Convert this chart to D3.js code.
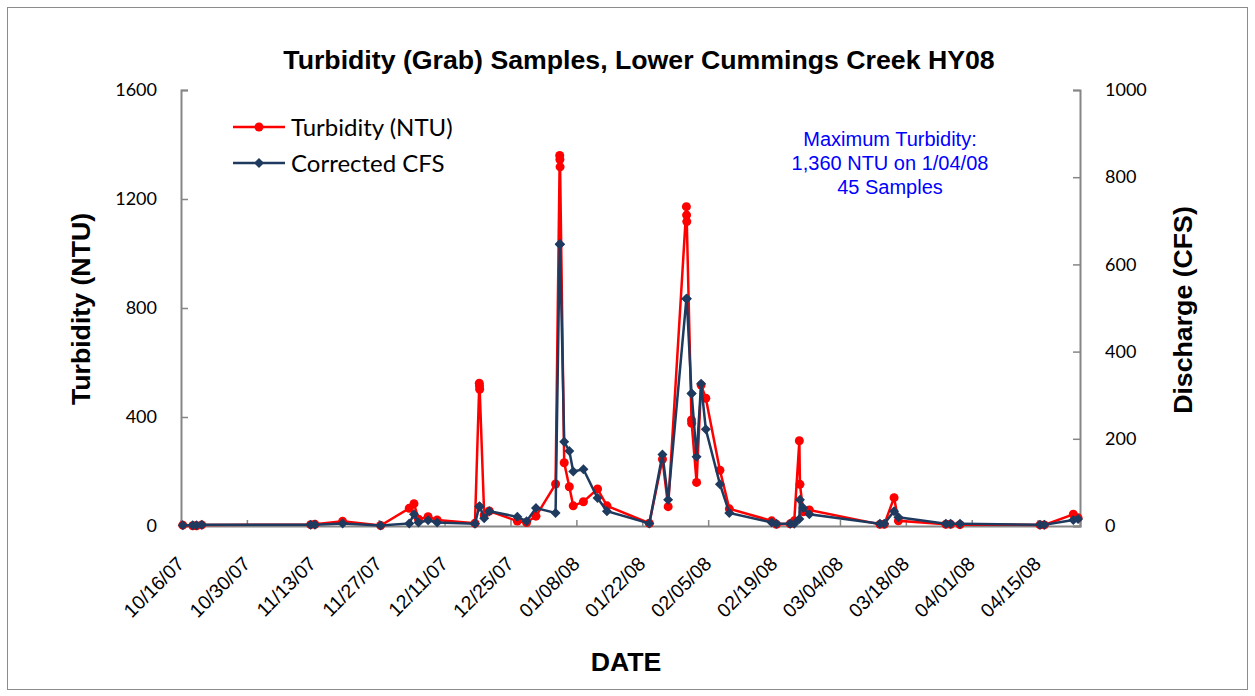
<!DOCTYPE html>
<html><head><meta charset="utf-8">
<script src="https://cdn.jsdelivr.net/npm/d3@7"></script>
<style>body{margin:0;background:#fff}</style>
</head><body><svg id="c" width="1255" height="696"></svg>
<script>
// ---- data ----
const sampleTimes = [
 "10/16/07 09:00","10/18/07 12:00","10/19/07 07:00","10/20/07 10:00",
 "11/12/07 13:00","11/13/07 11:00","11/19/07 08:00","11/27/07 10:00",
 "12/03/07 12:00","12/04/07 12:00","12/05/07 11:00","12/07/07 12:00","12/09/07 10:00",
 "12/17/07 11:00","12/18/07 09:00","12/18/07 10:00","12/18/07 11:00","12/19/07 10:00","12/20/07 12:00",
 "12/26/07 11:00","12/28/07 10:00","12/30/07 10:00",
 "01/03/08 14:00","01/04/08 11:00","01/04/08 12:00","01/04/08 13:00","01/05/08 10:00","01/06/08 12:00",
 "01/07/08 08:00","01/09/08 12:00","01/12/08 12:00","01/14/08 12:00",
 "01/23/08 12:00","01/26/08 07:00","01/27/08 12:00",
 "01/31/08 09:00","01/31/08 10:00","01/31/08 11:00","02/01/08 11:00","02/01/08 12:00",
 "02/02/08 13:00","02/03/08 12:00","02/04/08 12:00","02/07/08 12:00","02/09/08 12:00",
 "02/18/08 12:00","02/19/08 12:00","02/22/08 10:00","02/23/08 07:00","02/24/08 09:00","02/24/08 12:00",
 "02/25/08 05:00","02/26/08 12:00",
 "03/12/08 12:00","03/13/08 10:00","03/15/08 12:00","03/16/08 10:00",
 "03/26/08 12:00","03/27/08 12:00","03/29/08 12:00",
 "04/15/08 12:00","04/16/08 10:00","04/22/08 14:00","04/23/08 14:00"
];
const turbidityNTU = [
 3,1,1,4,
 5,6,17,2,
 65,82,25,34,22,
 10,524,514,502,40,55,
 18,13,36,
 154,1360,1345,1318,232,144,
 74,89,136,74,
 10,245,71,
 1172,1141,1117,389,377,
 160,517,469,205,63,
 19,6,8,19,313,153,
 52,59,
 6,6,104,19,
 6,6,5,
 4,4,43,30
];
const correctedCFS = [
 2,2,2,3,
 3,3,6,1,
 6,27,8,13,8,
 5,45,45,45,18,34,
 21,11,41,
 30,646,646,646,193,172,
 125,130,64,34,
 6,164,60,
 521,521,521,304,304,
 159,326,222,96,30,
 8,5,5,5,16,60,
 41,27,
 5,5,34,20,
 5,5,5,
 3,3,14,16
];
const dateTickLabels = ["10/16/07","10/30/07","11/13/07","11/27/07","12/11/07","12/25/07",
 "01/08/08","01/22/08","02/05/08","02/19/08","03/04/08","03/18/08","04/01/08","04/15/08"];
const ntuTicks = [0,400,800,1200,1600];
const cfsTicks = [0,200,400,600,800,1000];
const xDomain = ["10/16/07","04/24/08"];

// ---- layout ----
const svg = d3.select("#c");
const L = 181, R = 1080, T = 90, B = 526;
const parseT = d3.timeParse("%m/%d/%y %H:%M");
const parseD = d3.timeParse("%m/%d/%y");
const x = d3.scaleTime().domain(xDomain.map(parseD)).range([L, R]);
const yL = d3.scaleLinear().domain([0, 1600]).range([B, T]);
const yR = d3.scaleLinear().domain([0, 1000]).range([B, T]);
const grey = "#868686";
const red = "#FF0000", navy = "#1F3A5F";
const ARIAL = "Liberation Sans, Arial, sans-serif";

svg.append("rect").attr("x", 7.5).attr("y", 7.5).attr("width", 1240).attr("height", 682)
  .attr("fill", "#fff").attr("stroke", "#8c8c8c").attr("stroke-width", 1);

const data = sampleTimes.map((s, i) => ({t: parseT(s), ntu: turbidityNTU[i], cfs: correctedCFS[i]}));

// axes
const gx = svg.append("g").attr("transform", `translate(0,${B})`)
  .call(d3.axisBottom(x).tickValues(dateTickLabels.map(parseD)).tickSize(-6).tickFormat(""));
const gl = svg.append("g").attr("transform", `translate(${L},0)`)
  .call(d3.axisLeft(yL).tickValues(ntuTicks).tickSize(-7).tickPadding(24).tickFormat(d3.format("d")));
const gr = svg.append("g").attr("transform", `translate(${R},0)`)
  .call(d3.axisRight(yR).tickValues(cfsTicks).tickSize(-7).tickPadding(25).tickFormat(d3.format("d")));
[gx, gl, gr].forEach(g => {
  g.select(".domain").attr("stroke", grey).attr("stroke-width", 2);
  g.selectAll(".tick line").attr("stroke", grey).attr("stroke-width", 1.5);
});
gl.selectAll("text").attr("font-family", "Lato").attr("font-size", 18).attr("fill", "#000");
gr.selectAll("text").attr("font-family", "Lato").attr("font-size", 18).attr("fill", "#000")
  .attr("text-anchor", "start");
gx.selectAll(".tick").append("text")
  .text((d, i) => dateTickLabels[i])
  .attr("font-family", ARIAL).attr("font-size", 19.5).attr("fill", "#000")
  .attr("text-anchor", "end")
  .attr("transform", "translate(4,39) rotate(-45)");

// series
const lineN = d3.line().x(d => x(d.t)).y(d => yL(d.ntu));
const lineC = d3.line().x(d => x(d.t)).y(d => yR(d.cfs));
svg.append("path").datum(data).attr("d", lineN).attr("fill", "none").attr("stroke", red).attr("stroke-width", 2.5);
svg.selectAll(".mn").data(data).join("circle").attr("class", "mn")
  .attr("cx", d => x(d.t)).attr("cy", d => yL(d.ntu)).attr("r", 4.5).attr("fill", red);
const diamond = {draw(ctx, size) { const r = Math.sqrt(size / 2);
  ctx.moveTo(0, -r); ctx.lineTo(r, 0); ctx.lineTo(0, r); ctx.lineTo(-r, 0); ctx.closePath(); }};
svg.append("path").datum(data).attr("d", lineC).attr("fill", "none").attr("stroke", navy).attr("stroke-width", 2.5);
svg.selectAll(".mc").data(data).join("path").attr("class", "mc")
  .attr("transform", d => `translate(${x(d.t)},${yR(d.cfs)})`)
  .attr("d", d3.symbol(diamond, 50)).attr("fill", navy);

// titles
const bold = (txt, tx, ty, rot) => svg.append("text").text(txt)
  .attr("font-family", ARIAL).attr("font-weight", "bold").attr("font-size", 26.7)
  .attr("text-anchor", "middle").attr("fill", "#000")
  .attr("transform", `translate(${tx},${ty})` + (rot ? ` rotate(${rot})` : ""));
bold("Turbidity (Grab) Samples, Lower Cummings Creek HY08", 639, 69, 0);
bold("Turbidity (NTU)", 90, 309, -90);
bold("Discharge (CFS)", 1192, 310, -90);
bold("DATE", 626, 671, 0);

// legend
const lg = svg.append("g");
lg.append("line").attr("x1", 233).attr("x2", 285).attr("y1", 127).attr("y2", 127).attr("stroke", red).attr("stroke-width", 2.5);
lg.append("circle").attr("cx", 259).attr("cy", 127).attr("r", 4.5).attr("fill", red);
lg.append("text").text("Turbidity (NTU)").attr("x", 291).attr("y", 136).attr("font-family", "Lato").attr("font-size", 24);
lg.append("line").attr("x1", 233).attr("x2", 285).attr("y1", 163).attr("y2", 163).attr("stroke", navy).attr("stroke-width", 2.5);
lg.append("path").attr("transform", "translate(259,163)").attr("d", d3.symbol(diamond, 50)).attr("fill", navy);
lg.append("text").text("Corrected CFS").attr("x", 291).attr("y", 172).attr("font-family", "Lato").attr("font-size", 24);

// annotation
const ann = ["Maximum Turbidity:", "1,360 NTU on 1/04/08", "45 Samples"];
svg.append("g").selectAll("text").data(ann).join("text").text(d => d)
  .attr("x", 890).attr("y", (d, i) => 146 + i * 24)
  .attr("font-family", ARIAL).attr("font-size", 20)
  .attr("fill", "#0000FF").attr("text-anchor", "middle");
</script></body></html>
